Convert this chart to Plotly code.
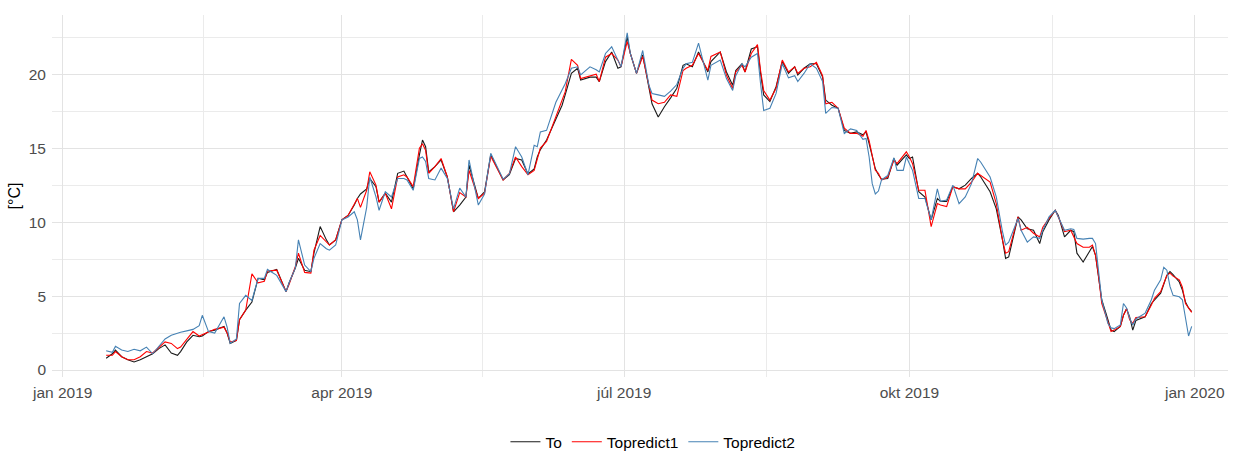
import pandas as pd
import plotly.graph_objects as go

# Day of year (0 = 1 Jan 2019) for each observation
day = [
    14, 16, 17, 19, 21, 23, 25, 27, 29, 31, 33, 35, 37, 38, 40, 42, 44, 45, 47, 49,
    52, 53, 54, 56, 57, 59, 61, 63, 65, 66, 69, 72, 73, 75,
    76, 78, 80, 81, 83, 85, 86, 88, 90, 92, 94, 95, 96, 98, 99, 101, 102, 104, 106,
    108, 110, 111, 113, 115, 116, 117, 118, 120, 122, 124, 126, 128, 130, 131, 134,
    136, 138, 142, 144, 146, 148, 150, 152, 153, 154, 156, 159, 161, 162, 164, 166,
    167, 170, 172, 173, 175, 177, 179, 180, 182, 183, 185, 187, 189, 190, 192, 194, 196,
    198, 200, 201, 203, 205, 208, 209, 212, 214, 216, 217, 219, 220, 222, 224, 225,
    226, 228, 230, 232, 234, 236, 237, 239, 241, 243, 245, 246, 248, 250, 252, 254, 256,
    258, 259, 260, 261, 262, 263, 264, 266, 268, 269, 271, 272, 273, 274, 276, 278,
    280, 282, 283, 285, 287, 289, 291, 293, 295, 296, 299, 301, 303, 304, 305, 308,
    309, 311, 313, 315, 316, 318, 320,
    321, 323, 325, 326, 327, 329, 331, 332, 333, 334, 335, 337, 338, 339, 341, 342,
    343, 344, 345, 346, 349, 351, 352, 354, 355, 356, 357, 358, 360, 361, 362, 363, 364,
]

# Observed temperature
to_obs = [
    0.8, 1.1, 1.35, 0.9, 0.7, 0.55, 0.7, 0.9, 1.1, 1.45, 1.7, 1.15, 1.0, 1.25, 1.9, 2.35, 2.25, 2.3, 2.6, 2.7,
    2.95, 2.5, 1.8, 2.0, 3.4, 4.05, 4.6, 6.2, 6.1, 6.6, 6.8, 5.3, 5.9, 6.9,
    7.55, 6.75, 6.65, 7.9, 9.7, 8.8, 8.45, 8.8, 10.15, 10.45, 11.15, 11.6, 11.9, 12.25, 12.95, 12.4, 11.35, 11.95, 11.35,
    13.3, 13.45, 13.05, 12.25, 14.55, 15.55, 15.1, 13.4, 13.75, 14.2, 13.05, 10.7, 11.15, 11.7, 13.85, 11.6,
    12.05, 14.55, 12.85, 13.2, 14.3, 14.2, 13.25, 13.6, 14.4, 14.9, 15.55, 16.9, 17.9, 18.6, 20.05, 20.4,
    19.6, 19.8, 19.8, 19.5, 20.85, 21.5, 20.4, 20.5, 22.5, 21.4, 20.05, 21.3, 19.05, 18.0, 17.1, 17.8, 18.4,
    19.05, 20.6, 20.7, 20.5, 21.5, 20.15, 20.85, 21.5, 20.15, 19.25, 20.25, 20.7, 20.15, 21.7, 21.85, 20.05,
    18.6, 18.15, 19.15, 20.85, 20.05, 20.5, 19.95, 20.4, 20.7, 20.7, 19.8, 18.25, 17.9, 17.7, 16.2, 16.0, 16.1,
    15.9, 16.1, 15.3, 14.5, 13.6, 13.2, 12.9, 12.95, 14.3, 13.85, 14.3, 14.55, 14.3, 14.4, 12.05, 11.7,
    10.15, 11.6, 11.4, 11.4, 12.4, 12.25, 12.5, 12.95, 13.3, 13.05, 12.05, 10.9, 8.8, 7.55, 7.65, 10.35,
    10.15, 9.55, 9.45, 8.55, 9.35, 10.15, 10.8,
    10.45, 9.0, 9.45, 9.35, 7.9, 7.3, 8.0, 8.35, 7.75, 6.3, 4.75, 3.4, 2.7, 2.6, 2.95, 3.7,
    4.15, 3.6, 2.7, 3.35, 3.6, 4.5, 4.75, 5.2, 5.8, 6.4, 6.65, 6.45, 5.95, 5.4, 4.6, 4.2, 3.95,
]

# Prediction, model 1
to_pred1 = [
    1.0, 1.0, 1.25, 0.9, 0.7, 0.7, 0.9, 1.25, 1.15, 1.55, 1.9, 1.8, 1.45, 1.55, 2.1, 2.6, 2.3, 2.4, 2.6, 2.75,
    2.9, 2.5, 1.9, 2.0, 3.4, 4.05, 6.5, 5.9, 6.0, 6.7, 6.75, 5.3, 5.8, 7.0,
    7.9, 6.6, 6.55, 8.1, 9.1, 8.65, 8.45, 8.8, 10.15, 10.45, 11.25, 11.6, 11.0, 12.15, 13.4, 12.5, 11.35, 11.95, 10.9,
    13.05, 13.2, 13.05, 12.4, 15.0, 15.3, 14.85, 13.3, 13.75, 14.3, 13.05, 10.7, 12.0, 11.7, 13.5, 11.6,
    11.95, 14.45, 12.85, 13.3, 14.4, 13.75, 13.2, 13.5, 14.2, 15.0, 15.45, 17.1, 18.2, 18.8, 21.0, 20.6,
    19.7, 19.9, 20.0, 19.5, 21.15, 21.4, 20.95, 20.5, 22.2, 21.4, 20.05, 21.2, 19.15, 18.25, 18.0, 18.1, 18.6,
    18.5, 20.25, 20.4, 20.6, 21.4, 20.25, 21.2, 21.5, 19.93, 19.03, 20.15, 20.6, 20.15, 21.4, 22.0, 20.25,
    18.9, 18.25, 19.05, 20.95, 20.15, 20.5, 20.05, 20.4, 20.5, 20.8, 19.9, 18.0, 18.1, 17.7, 16.35, 16.0, 16.0,
    15.8, 16.2, 15.5, 14.5, 13.5, 13.3, 12.85, 13.05, 14.2, 13.95, 14.5, 14.75, 14.4, 13.95, 12.15, 12.15,
    9.7, 11.25, 11.15, 11.05, 12.4, 12.25, 12.25, 12.7, 13.3, 13.15, 12.7, 11.25, 8.8, 7.9, 8.0, 10.35,
    9.45, 9.65, 9.25, 9.0, 9.65, 10.25, 10.8,
    10.35, 9.35, 9.45, 9.0, 8.55, 8.3, 8.3, 8.45, 7.75, 6.3, 4.5, 3.25, 2.6, 2.7, 2.95, 3.7,
    4.15, 3.4, 3.15, 3.55, 3.6, 4.4, 4.85, 5.3, 5.8, 6.4, 6.55, 6.35, 6.1, 5.6, 4.5, 4.2, 3.9,
]

# Prediction, model 2
to_pred2 = [
    1.3, 1.2, 1.6, 1.35, 1.25, 1.4, 1.3, 1.55, 1.1, 1.6, 2.1, 2.35, 2.5, 2.55, 2.65, 2.75, 3.0, 3.7, 2.6, 2.5,
    3.6, 2.9, 1.8, 2.1, 4.5, 5.05, 4.7, 6.2, 6.2, 6.8, 6.4, 5.3, 5.9, 6.9,
    8.8, 7.1, 6.65, 7.55, 8.55, 8.2, 8.1, 8.45, 10.15, 10.35, 10.7, 10.15, 8.8, 11.0, 13.05, 11.7, 10.8, 12.05, 11.7,
    12.95, 12.95, 12.85, 12.15, 14.3, 14.4, 14.1, 12.95, 12.85, 13.65, 12.95, 10.9, 12.3, 11.7, 14.2, 11.15,
    11.9, 14.65, 12.9, 13.25, 15.1, 14.4, 13.2, 15.2, 15.1, 16.1, 16.2, 18.1, 19.0, 19.35, 20.4, 20.5,
    19.95, 20.5, 20.3, 20.15, 21.4, 21.85, 20.95, 20.5, 22.8, 21.4, 20.05, 21.6, 19.25, 18.7, 18.6, 18.5, 18.85,
    19.3, 20.4, 20.7, 20.8, 22.1, 19.6, 20.6, 20.95, 19.7, 18.9, 19.9, 20.7, 20.5, 21.15, 21.4, 19.35,
    17.55, 17.7, 18.7, 20.7, 19.75, 19.9, 19.5, 20.05, 20.7, 20.4, 19.5, 17.35, 17.75, 17.7, 15.99, 16.3, 16.2,
    15.6, 15.65, 14.4, 12.6, 11.9, 12.1, 12.85, 13.15, 14.35, 13.5, 13.5, 14.4, 13.95, 13.5, 11.6, 11.6,
    10.15, 12.25, 11.4, 11.5, 12.5, 11.25, 11.7, 12.6, 14.3, 14.05, 13.05, 11.7, 9.35, 8.45, 8.65, 10.25,
    9.45, 8.65, 9.0, 8.9, 9.45, 10.35, 10.8,
    10.35, 9.45, 9.55, 9.5, 8.9, 8.85, 8.9, 8.9, 8.55, 6.75, 4.75, 3.15, 2.85, 2.8, 3.05, 4.5,
    4.2, 3.5, 3.05, 3.45, 3.85, 4.75, 5.4, 6.1, 6.95, 6.75, 5.65, 5.05, 4.95, 4.75, 3.6, 2.3, 2.95,
]

series_names = ["To", "Topredict1", "Topredict2"]
series_colors = ["#1a1a1a", "#ff0000", "#4682b4"]

major_dates = ["2019-01-01", "2019-04-01", "2019-07-01", "2019-10-01", "2020-01-01"]
major_labels = ["jan 2019", "apr 2019", "júl 2019", "okt 2019", "jan 2020"]
minor_dates = ["2019-02-15 12:00", "2019-05-16 12:00", "2019-08-16", "2019-11-16"]

y_major = [0, 5, 10, 15, 20]
y_minor = [2.5, 7.5, 12.5, 17.5, 22.5]

dates = pd.Timestamp("2019-01-01") + pd.to_timedelta(day, unit="D")

fig = go.Figure()
for name, vals, col in zip(series_names, [to_obs, to_pred1, to_pred2], series_colors):
    fig.add_trace(go.Scatter(
        x=dates, y=vals, name=name, mode="lines",
        line=dict(color=col, width=1.1),
    ))

font_family = "Liberation Sans, Arial, sans-serif"
grid_major = "#e3e3e3"
grid_minor = "#ebebeb"

fig.update_layout(
    width=1235, height=453,
    # fixed margins so the low legend does not shrink the panel
    margin=dict(l=52, r=7, t=15, b=76, autoexpand=False),
    plot_bgcolor="white", paper_bgcolor="white",
    font=dict(family=font_family, color="#4d4d4d", size=15.5),
    showlegend=True,
    legend=dict(
        orientation="h", x=0.511, xanchor="center", y=-0.18, yanchor="middle",
        font=dict(size=15.5, color="black"), itemwidth=30,
        bgcolor="rgba(0,0,0,0)",
    ),
    xaxis=dict(
        type="date",
        range=["2018-12-28 13:00", "2020-01-11 17:00"],
        tickmode="array", tickvals=major_dates, ticktext=major_labels,
        showgrid=True, gridcolor=grid_major, gridwidth=1.2,
        minor=dict(tickvals=minor_dates, showgrid=True, gridcolor=grid_minor, gridwidth=0.9),
        showline=False, zeroline=False, ticks="",
        tickfont=dict(size=15.5, color="#4d4d4d"),
        ticklabelstandoff=4,
    ),
    yaxis=dict(
        range=[-0.47, 24.0],
        tickmode="array", tickvals=y_major, ticktext=[str(v) for v in y_major],
        showgrid=True, gridcolor=grid_major, gridwidth=1.2,
        minor=dict(tickvals=y_minor, showgrid=True, gridcolor=grid_minor, gridwidth=0.9),
        showline=False, zeroline=False, ticks="",
        tickfont=dict(size=15.5, color="#4d4d4d"),
        ticklabelstandoff=5,
        title=dict(text="[°C]", font=dict(size=16, color="black"), standoff=4),
    ),
)

fig.write_html("out.html")
